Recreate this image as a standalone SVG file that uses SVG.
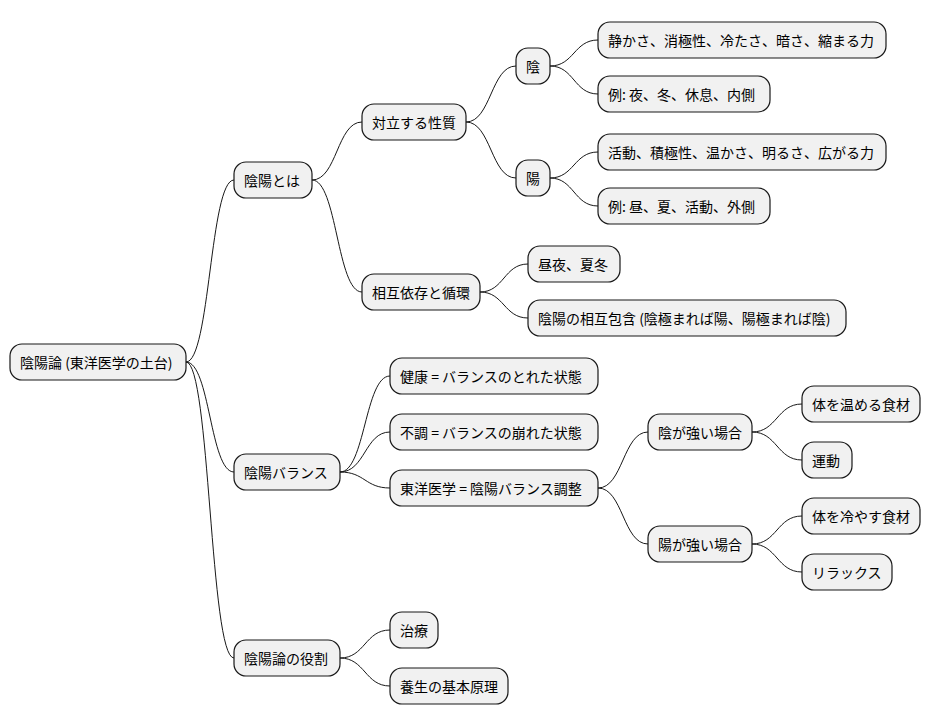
<svg xmlns="http://www.w3.org/2000/svg" width="931" height="724" viewBox="0 0 931 724">
<style>
.n rect{fill:#F1F1F1;stroke:#181818;stroke-width:1.2}
.n text{font-family:"Noto Sans CJK JP","Noto Sans",sans-serif;font-size:14px;fill:#000;dominant-baseline:central}
#c path{fill:none;stroke:#181818;stroke-width:1}
</style>
<rect width="931" height="724" fill="#fff"/>
<g id="c">
<path d="M186,362 C210,362 210,180 234,180"/>
<path d="M186,362 C210,362 210,472 234,472"/>
<path d="M186,362 C210,362 210,658 234,658"/>
<path d="M312,180 C337,180 337,122 362,122"/>
<path d="M312,180 C337,180 337,292 362,292"/>
<path d="M466,122 C491,122 491,66 516,66"/>
<path d="M466,122 C491,122 491,178 516,178"/>
<path d="M550,66 C574,66 574,40 598,40"/>
<path d="M550,66 C574,66 574,94 598,94"/>
<path d="M550,178 C574,178 574,152 598,152"/>
<path d="M550,178 C574,178 574,206 598,206"/>
<path d="M480,292 C504,292 504,264 528,264"/>
<path d="M480,292 C504,292 504,318 528,318"/>
<path d="M340,472 C365,472 365,376 390,376"/>
<path d="M340,472 C365,472 365,432 390,432"/>
<path d="M340,472 C365,472 365,488 390,488"/>
<path d="M598,488 C623,488 623,432 648,432"/>
<path d="M598,488 C623,488 623,544 648,544"/>
<path d="M752,432 C777,432 777,404 802,404"/>
<path d="M752,432 C777,432 777,460 802,460"/>
<path d="M752,544 C777,544 777,516 802,516"/>
<path d="M752,544 C777,544 777,572 802,572"/>
<path d="M340,658 C365,658 365,630 390,630"/>
<path d="M340,658 C365,658 365,686 390,686"/>
</g>
<g id="root" class="n"><rect x="10" y="344" width="176" height="36" rx="12"/><text x="20" y="362">陰陽論 (東洋医学の土台)</text></g>
<g id="n1" class="n"><rect x="234" y="162" width="78" height="36" rx="12"/><text x="244" y="180">陰陽とは</text></g>
<g id="n2" class="n"><rect x="362" y="104" width="104" height="36" rx="12"/><text x="372" y="122">対立する性質</text></g>
<g id="n3" class="n"><rect x="516" y="48" width="34" height="36" rx="12"/><text x="526" y="66">陰</text></g>
<g id="n4" class="n"><rect x="598" y="22" width="288" height="36" rx="12"/><text x="608" y="40">静かさ、消極性、冷たさ、暗さ、縮まる力</text></g>
<g id="n5" class="n"><rect x="598" y="76" width="172" height="36" rx="12"/><text x="608" y="94">例: 夜、冬、休息、内側</text></g>
<g id="n6" class="n"><rect x="516" y="160" width="34" height="36" rx="12"/><text x="526" y="178">陽</text></g>
<g id="n7" class="n"><rect x="598" y="134" width="288" height="36" rx="12"/><text x="608" y="152">活動、積極性、温かさ、明るさ、広がる力</text></g>
<g id="n8" class="n"><rect x="598" y="188" width="172" height="36" rx="12"/><text x="608" y="206">例: 昼、夏、活動、外側</text></g>
<g id="n9" class="n"><rect x="362" y="274" width="118" height="36" rx="12"/><text x="372" y="292">相互依存と循環</text></g>
<g id="n10" class="n"><rect x="528" y="246" width="92" height="36" rx="12"/><text x="538" y="264">昼夜、夏冬</text></g>
<g id="n11" class="n"><rect x="528" y="300" width="318" height="36" rx="12"/><text x="538" y="318">陰陽の相互包含 (陰極まれば陽、陽極まれば陰)</text></g>
<g id="n12" class="n"><rect x="234" y="454" width="106" height="36" rx="12"/><text x="244" y="472">陰陽バランス</text></g>
<g id="n13" class="n"><rect x="390" y="358" width="208" height="36" rx="12"/><text x="400" y="376">健康 = バランスのとれた状態</text></g>
<g id="n14" class="n"><rect x="390" y="414" width="208" height="36" rx="12"/><text x="400" y="432">不調 = バランスの崩れた状態</text></g>
<g id="n15" class="n"><rect x="390" y="470" width="208" height="36" rx="12"/><text x="400" y="488">東洋医学 = 陰陽バランス調整</text></g>
<g id="n16" class="n"><rect x="648" y="414" width="104" height="36" rx="12"/><text x="658" y="432">陰が強い場合</text></g>
<g id="n17" class="n"><rect x="802" y="386" width="118" height="36" rx="12"/><text x="812" y="404">体を温める食材</text></g>
<g id="n18" class="n"><rect x="802" y="442" width="50" height="36" rx="12"/><text x="812" y="460">運動</text></g>
<g id="n19" class="n"><rect x="648" y="526" width="104" height="36" rx="12"/><text x="658" y="544">陽が強い場合</text></g>
<g id="n20" class="n"><rect x="802" y="498" width="118" height="36" rx="12"/><text x="812" y="516">体を冷やす食材</text></g>
<g id="n21" class="n"><rect x="802" y="554" width="90" height="36" rx="12"/><text x="812" y="572">リラックス</text></g>
<g id="n22" class="n"><rect x="234" y="640" width="106" height="36" rx="12"/><text x="244" y="658">陰陽論の役割</text></g>
<g id="n23" class="n"><rect x="390" y="612" width="48" height="36" rx="12"/><text x="400" y="630">治療</text></g>
<g id="n24" class="n"><rect x="390" y="668" width="118" height="36" rx="12"/><text x="400" y="686">養生の基本原理</text></g>
</svg>
